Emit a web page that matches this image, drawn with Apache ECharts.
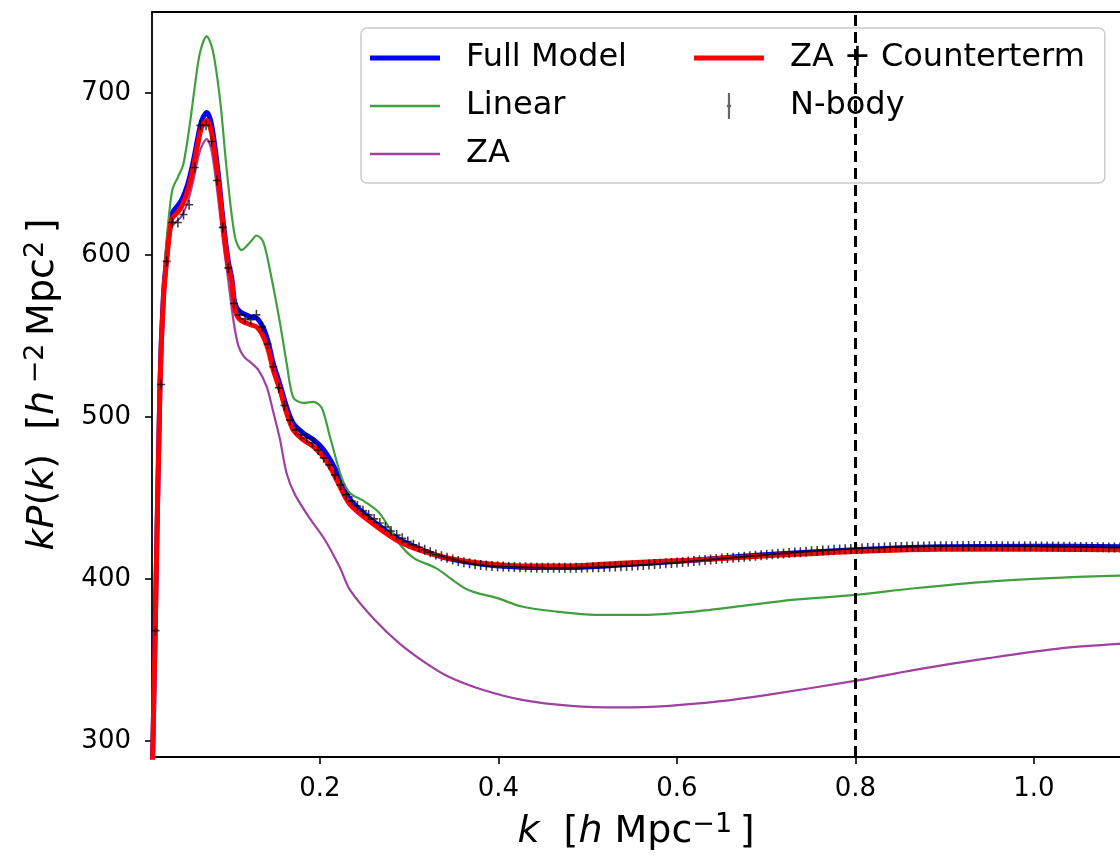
<!DOCTYPE html>
<html><head><meta charset="utf-8">
<script src="https://cdn.jsdelivr.net/npm/echarts@6/dist/echarts.min.js"></script>
<style>html,body{margin:0;padding:0;background:#fff}#c{width:1120px;height:862px}</style>
</head><body><div id="c"></div>
<script>
// ---- data ----
const fullModel = [[0.0118,272],[0.0152,364],[0.0208,522],[0.0245,574],[0.0283,599],[0.0339,625],[0.0400,630],[0.0451,634],[0.0520,644],[0.0581,658],[0.0630,672],[0.0675,683],[0.0731,688],[0.0787,680],[0.0861,650],[0.0917,620],[0.0973,596],[0.1011,586],[0.1048,570],[0.1104,565],[0.1216,562],[0.1291,561],[0.1365,555],[0.1421,546],[0.1477,533],[0.1552,520],[0.1627,506],[0.1701,496],[0.1813,490],[0.1925,486],[0.2037,480],[0.2131,472],[0.2187,466],[0.2336,449],[0.2612,435],[0.2886,424.5],[0.3162,417.5],[0.3437,412.5],[0.3822,409],[0.4263,407.2],[0.4813,407],[0.5363,408.5],[0.6189,411.5],[0.7015,415],[0.7995,418],[0.8942,419.8],[1.0042,420.2],[1.0964,419.8]];
const linear = [[0.0118,268],[0.0152,365],[0.0208,527],[0.0245,580],[0.0283,610],[0.0345,640],[0.0408,648],[0.0469,656],[0.0540,680],[0.0600,705],[0.0656,725],[0.0731,735],[0.0798,726.5],[0.0880,696],[0.0960,650],[0.1048,611],[0.1123,603],[0.1220,608],[0.1290,612],[0.1365,608],[0.1460,585],[0.1552,558],[0.1627,533],[0.1701,512],[0.1813,508.6],[0.1925,509.3],[0.2019,505.6],[0.2112,487.7],[0.2244,462.3],[0.2336,453],[0.2501,447.7],[0.2667,440.6],[0.2886,422],[0.3052,412.8],[0.3300,406.6],[0.3657,393.2],[0.3987,388.1],[0.4262,382.9],[0.4648,379.8],[0.5088,377.8],[0.5638,377.8],[0.6189,379.8],[0.6740,383.3],[0.7289,387],[0.7995,390.1],[0.8665,394.2],[0.9490,398.3],[1.0316,400.8],[1.0964,402]];
const za = [[0.0118,265],[0.0152,358],[0.0208,515],[0.0245,567],[0.0283,592],[0.0339,617],[0.0400,621],[0.0451,624],[0.0520,633],[0.0581,646],[0.0630,659],[0.0675,667],[0.0731,671.5],[0.0787,664],[0.0861,634],[0.0917,607],[0.0973,584],[0.1029,560],[0.1085,544],[0.1150,537],[0.1216,534],[0.1309,529],[0.1403,518.7],[0.1477,503],[0.1552,486],[0.1627,465],[0.1720,452],[0.1890,437],[0.2056,424],[0.2225,406.8],[0.2336,393.2],[0.2612,374.7],[0.2886,360.3],[0.3162,348.9],[0.3437,339.7],[0.3822,331.5],[0.4263,325.3],[0.4813,321.6],[0.5363,320.6],[0.5914,321.6],[0.6464,324.3],[0.7015,328.4],[0.7995,337],[0.8665,343.8],[0.9490,351],[1.0316,357.2],[1.0964,359.8]];
const zaCounterterm = [[0.0118,270],[0.0152,362],[0.0208,520],[0.0245,572],[0.0283,597],[0.0339,622],[0.0400,626],[0.0451,630],[0.0520,640],[0.0581,654],[0.0630,668],[0.0675,679],[0.0731,683],[0.0787,675],[0.0861,646],[0.0917,617],[0.0973,593],[0.1011,584],[0.1048,566],[0.1104,560],[0.1216,557],[0.1291,555.5],[0.1365,549.6],[0.1421,541.4],[0.1477,529],[0.1552,516.7],[0.1627,502.3],[0.1701,492],[0.1813,485.8],[0.1925,481.7],[0.2037,475.5],[0.2131,467.3],[0.2187,461.1],[0.2336,446],[0.2612,433.3],[0.2886,423.1],[0.3162,416.9],[0.3437,412.8],[0.3822,409.7],[0.4263,408],[0.4813,408],[0.5363,409.7],[0.6189,411.7],[0.7015,414.2],[0.7995,416.9],[0.8942,418.3],[1.0042,418.3],[1.0964,417.9]];
const nbodyK = [
0.0157,0.0220,0.0283,0.0346,0.0408,0.0471,0.0534,0.0597,0.0660,0.0723,
0.0785,0.0848,0.0911,0.0974,0.1037,0.1100,0.1162,0.1225,0.1288,0.1351,
0.1414,0.1477,0.1539,0.1602,0.1665,0.1728,0.1791,0.1853,0.1916,0.1979,
0.2042,0.2105,0.2168,0.2231,0.2293,0.2356,0.2419,0.2482,0.2545,0.2607,
0.2670,0.2733,0.2796,0.2859,0.2922,0.2984,0.3047,0.3110,0.3173,0.3236,
0.3299,0.3361,0.3424,0.3487,0.3550,0.3613,0.3676,0.3738,0.3801,0.3864,
0.3927,0.3990,0.4053,0.4115,0.4178,0.4241,0.4304,0.4367,0.4430,0.4492,
0.4555,0.4618,0.4681,0.4744,0.4807,0.4869,0.4932,0.4995,0.5058,0.5121,
0.5184,0.5246,0.5309,0.5372,0.5435,0.5498,0.5561,0.5623,0.5686,0.5749,
0.5812,0.5875,0.5938,0.6000,0.6063,0.6126,0.6189,0.6252,0.6315,0.6377,
0.6440,0.6503,0.6566,0.6629,0.6692,0.6754,0.6817,0.6880,0.6943,0.7006,
0.7069,0.7131,0.7194,0.7257,0.7320,0.7383,0.7446,0.7508,0.7571,0.7634,
0.7697,0.7760,0.7823,0.7885,0.7948,0.8011,0.8074,0.8137,0.8200,0.8262,
0.8325,0.8388,0.8451,0.8514,0.8577,0.8639,0.8702,0.8765,0.8828,0.8891,
0.8954,0.9016,0.9079,0.9142,0.9205,0.9268,0.9331,0.9393,0.9456,0.9519,
0.9582,0.9645,0.9708,0.9770,0.9833,0.9896,0.9959,1.0022,1.0085,1.0147,
1.0210,1.0273,1.0336,1.0399,1.0462,1.0524,1.0587,1.0650,1.0713,1.0776,
1.0839,1.0901,1.0964];
const nbodyP = [
368,520,596,620,620,625,631,654,680,680,
670,646,617,592,570,563,560.5,560,563,555.6,
545,531,518,507,498,492,489,487,484,479.6,
474.7,470.4,464.2,458,452,448,445,442,439.5,437,
434.5,432,429.5,427,425,423,421,419.5,418,416.5,
415,414,413,412,411,410.3,409.6,409,408.5,408.2,
408.0,407.8,407.6,407.4,407.3,407.2,407.1,407.0,406.9,406.9,
406.8,406.8,406.8,406.8,406.8,406.9,406.9,407.0,407.1,407.2,
407.3,407.5,407.6,407.8,408.0,408.2,408.4,408.6,408.8,409.1,
409.3,409.6,409.8,410.1,410.4,410.7,411.0,411.3,411.6,411.9,
412.2,412.5,412.8,413.1,413.4,413.7,414.0,414.3,414.6,414.9,
415.2,415.5,415.7,416.0,416.3,416.5,416.8,417.0,417.2,417.5,
417.7,417.9,418.1,418.3,418.5,418.6,418.8,419.0,419.1,419.2,
419.4,419.5,419.6,419.7,419.8,419.9,420.0,420.0,420.1,420.1,
420.2,420.2,420.2,420.3,420.3,420.3,420.3,420.3,420.3,420.3,
420.3,420.2,420.2,420.2,420.2,420.1,420.1,420.1,420.0,420.0,
419.9,419.9,419.8,419.8,419.7,419.7,419.6,419.6,419.5,419.5,
419.4,419.4,419.3];
const xTicks = [0.2, 0.4, 0.6, 0.8, 1.0];
const xTickLabels = ['0.2', '0.4', '0.6', '0.8', '1.0'];
const yTicks = [300, 400, 500, 600, 700];
const yTickLabels = ['300', '400', '500', '600', '700'];
const kCut = 0.8;
const seriesNames = ['Full Model', 'Linear', 'ZA', 'ZA + Counterterm', 'N-body'];

// ---- chart ----
const FONT = 'DejaVu Sans';
const nbody = nbodyK.map((k, i) => [k, nbodyP[i]]);
const X_MIN = 0.0118, X_MAX = 1.0964, Y_MIN = 290, Y_MAX = 750;
const chart = echarts.init(document.getElementById('c'), null, {renderer: 'canvas'});
const axisLine = {show: true, lineStyle: {color: '#000', width: 1.8}};
const lineSeries = (name, data, color, width, z) => ({
  name, type: 'line', data, symbol: 'none', showSymbol: false,
  smooth: 0.3, z,
  lineStyle: {color, width}, itemStyle: {color}, emphasis: {disabled: true}
});
const plus = 'path://M-0.8,-5h1.6v10h-1.6z M-4,-0.8h8v1.6h-8z';
const thick = 'path://M0,0h70v5h-70z';
const thin = 'path://M0,0h70v2.4h-70z';
const labelRich = {
  i: {fontStyle: 'italic', fontSize: 38, fontFamily: FONT, color: '#000'},
  s: {fontSize: 27, fontFamily: FONT, color: '#000', verticalAlign: 'top', padding: [0, 0, 15, 0]}
};
const option = {
  animation: false,
  backgroundColor: '#fff',
  textStyle: {fontFamily: FONT},
  grid: {left: 152, right: 0, top: 12, bottom: 105, containLabel: false},
  legend: {
    orient: 'vertical', left: 361, top: 28, height: 160,
    padding: [12, 20, 11, 9], itemGap: 12, itemWidth: 70, itemHeight: 26,
    backgroundColor: 'rgba(255,255,255,0.8)', borderColor: '#cccccc', borderWidth: 1.5, borderRadius: 6,
    textStyle: {fontFamily: FONT, fontSize: 32, lineHeight: 36, color: '#000', padding: [0, 0, 0, 21]},
    data: [
      {name: seriesNames[0], icon: thick, textStyle: {padding: [0, 55, 0, 21]}},
      {name: seriesNames[1], icon: thin},
      {name: seriesNames[2], icon: thin},
      {name: seriesNames[3], icon: thick},
      {name: seriesNames[4], icon: 'path://M0,0h1v12h-1z M-0.5,5.4h2v1.2h-2z', itemStyle: {color: '#333'}}
    ]
  },
  xAxis: [{
    type: 'value', min: X_MIN, max: X_MAX, position: 'bottom',
    axisLine, splitLine: {show: false},
    axisTick: {show: true, inside: false, length: 7, lineStyle: {color: '#000', width: 1.6}, customValues: xTicks},
    axisLabel: {customValues: xTicks, margin: 19, fontSize: 26, color: '#000', fontFamily: FONT,
      formatter: v => xTickLabels[xTicks.findIndex(t => Math.abs(t - v) < 1e-9)] || ''},
    name: '{i|k}  [{i|h} Mpc{s|\u22121}\u2009]',
    nameLocation: 'middle', nameGap: 54,
    nameTextStyle: {fontSize: 38, color: '#000', fontFamily: FONT, rich: labelRich}
  }, {
    type: 'value', min: X_MIN, max: X_MAX, position: 'top',
    axisLine, axisTick: {show: false}, axisLabel: {show: false}, splitLine: {show: false}
  }],
  yAxis: {
    type: 'value', min: Y_MIN, max: Y_MAX,
    axisLine, splitLine: {show: false},
    axisTick: {show: true, inside: false, length: 7, lineStyle: {color: '#000', width: 1.6}, customValues: yTicks},
    axisLabel: {customValues: yTicks, margin: 21, fontSize: 26, color: '#000', fontFamily: FONT,
      formatter: v => yTickLabels[yTicks.indexOf(v)] || ''},
    name: '{i|kP}({i|k})  [{i|h}\u2009{s|\u22122}\u2009Mpc{s|2}\u2009]',
    nameLocation: 'middle', nameRotate: 90, nameGap: 88,
    nameTextStyle: {fontSize: 38, color: '#000', fontFamily: FONT, rich: labelRich}
  },
  series: [
    lineSeries(seriesNames[0], fullModel, '#0000ff', 5, 2),
    lineSeries(seriesNames[1], linear, '#40a040', 2.2, 3),
    lineSeries(seriesNames[2], za, '#a040a0', 2.2, 4),
    lineSeries(seriesNames[3], zaCounterterm, '#ff0000', 5, 5),
    {
      name: seriesNames[4], type: 'scatter', data: nbody, z: 6,
      symbol: plus, symbolSize: [8, 10], itemStyle: {color: '#000', opacity: 0.75},
      emphasis: {disabled: true},
      markLine: {
        silent: true, symbol: ['none', 'none'], label: {show: false},
        lineStyle: {color: '#000', type: [11, 6], width: 3, opacity: 1},
        data: [{xAxis: kCut}]
      }
    }
  ]
};
chart.setOption(option);
</script>
</body></html>
